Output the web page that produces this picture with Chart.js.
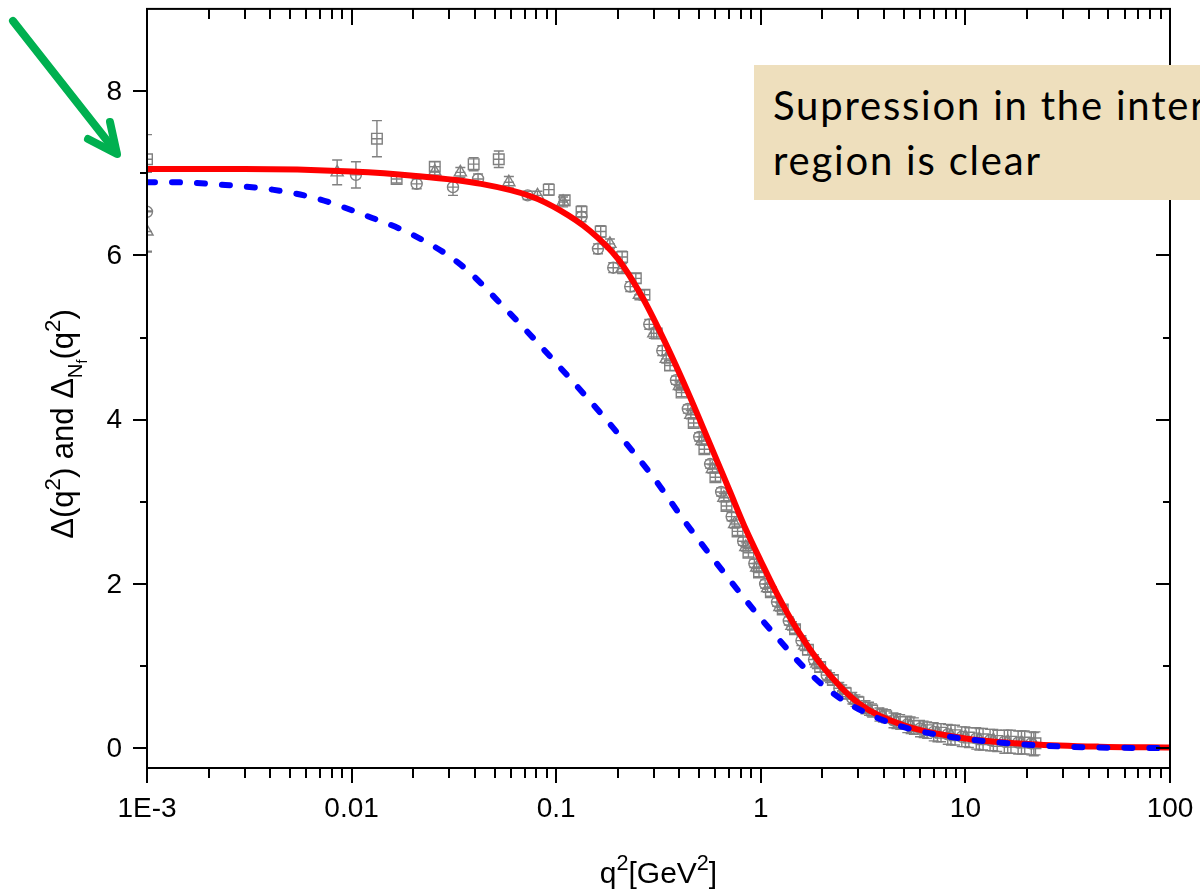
<!DOCTYPE html>
<html>
<head>
<meta charset="utf-8">
<title>Gluon propagator</title>
<script src="https://cdn.jsdelivr.net/npm/chart.js@4.4.1/dist/chart.umd.min.js"></script>
<style>
    html, body { margin: 0; padding: 0; background: #fff; overflow: hidden; }
    #wrap { position: relative; width: 1200px; height: 894px; overflow: hidden; }
    #plot { position: absolute; left: 0; top: 0; }
    #arrow { position: absolute; left: 0; top: 0; }
    #note {
        position: absolute; left: 754px; top: 65px; width: 640px; height: 135px;
        background: #EEDFBD; color: #000; box-sizing: border-box;
        padding: 13px 0 0 19px; white-space: nowrap;
        font-family: Lato, "Open Sans", sans-serif; font-size: 40px; line-height: 55px;
        letter-spacing: 1.8px;
    }
</style>
</head>
<body>
<div id="wrap">
    <canvas id="plot" width="1200" height="894"></canvas>
    <svg id="arrow" width="140" height="170">
        <g stroke="#00B050" stroke-width="8" stroke-linecap="round" stroke-linejoin="round" fill="none">
            <line x1="13" y1="21" x2="116" y2="152"/>
            <polyline points="110,122 117,154 88,139"/>
        </g>
    </svg>
    <div id="note">Supression in the intermediate<br>region is clear</div>
</div>
<script>
/*== axes ==*/
const xTickVals = [0.001, 0.01, 0.1, 1, 10, 100];
const xTickLabels = ['1E-3', '0.01', '0.1', '1', '10', '100'];
const yTickVals = [0, 2, 4, 6, 8];
const yTickLabels = ['0', '2', '4', '6', '8'];
const yMinorVals = [1, 3, 5, 7];

/*== fit (red) ==*/
const fitQ = [0.001, 0.003, 0.01, 0.02, 0.043, 0.075, 0.104, 0.146, 0.2, 0.265, 0.35, 0.45, 0.55, 0.7, 0.85, 1.0, 1.2, 1.5, 2.0, 3.0, 5.0, 10, 21, 45, 100];
const fitDelta = [7.05, 7.05, 7.02, 6.97, 6.87, 6.72, 6.55, 6.30, 5.96, 5.48, 4.88, 4.28, 3.77, 3.15, 2.65, 2.28, 1.88, 1.45, 1.00, 0.55, 0.28, 0.12, 0.05, 0.02, 0.01];

/*== N_f curve (blue dashed) ==*/
const nfQ = [0.001, 0.00134, 0.0023, 0.0041, 0.0068, 0.0113, 0.0199, 0.034, 0.057, 0.117, 0.19, 0.30, 0.434, 0.65, 0.97, 1.24, 1.56, 2.03, 2.7, 4.4, 7.5, 14.7, 31, 100];
const nfDelta = [6.89, 6.89, 6.86, 6.80, 6.69, 6.50, 6.25, 5.89, 5.34, 4.50, 3.90, 3.29, 2.73, 2.16, 1.62, 1.31, 1.03, 0.76, 0.54, 0.30, 0.16, 0.07, 0.02, 0.0];

/*== lattice points: squares ==*/
const sqQ = [0.001, 0.0133, 0.0166, 0.0255, 0.0395, 0.0524, 0.092, 0.11, 0.133, 0.165, 0.21, 0.245, 0.27, 0.31, 0.36, 0.41, 0.47, 0.53, 0.60, 0.68, 0.77, 0.87, 0.98, 1.12, 1.28, 1.47, 1.70, 1.95, 2.25, 2.6, 3.0, 3.5, 4.1, 4.8, 5.6, 6.5, 7.6, 8.9, 10.4, 12.2, 14.3, 16.7, 19.5, 22.0];
const sqVal = [7.17, 7.42, 6.93, 7.08, 7.11, 7.17, 6.80, 6.67, 6.53, 6.29, 5.98, 5.72, 5.52, 5.05, 4.66, 4.33, 3.96, 3.64, 3.30, 2.95, 2.64, 2.38, 2.14, 1.90, 1.69, 1.45, 1.20, 0.99, 0.83, 0.67, 0.56, 0.46, 0.39, 0.32, 0.27, 0.22, 0.19, 0.16, 0.13, 0.11, 0.09, 0.08, 0.07, 0.06];
const sqErr = [0.30, 0.22, 0.05, 0.06, 0.08, 0.10, 0.07, 0.06, 0.07, 0.07, 0.07, 0.06, 0.06, 0.06, 0.06, 0.05, 0.05, 0.05, 0.05, 0.05, 0.05, 0.05, 0.05, 0.05, 0.05, 0.05, 0.06, 0.06, 0.06, 0.07, 0.07, 0.08, 0.08, 0.09, 0.10, 0.10, 0.11, 0.12, 0.12, 0.13, 0.13, 0.14, 0.14, 0.14];

/*== lattice points: circles ==*/
const ciQ = [0.001, 0.0105, 0.0208, 0.0313, 0.0415, 0.0725, 0.133, 0.16, 0.19, 0.23, 0.285, 0.33, 0.385, 0.44, 0.50, 0.565, 0.64, 0.72, 0.82, 0.93, 1.05, 1.20, 1.37, 1.58, 1.82, 2.1, 2.42, 2.8, 3.25, 3.8, 4.45, 5.2, 6.0, 7.0, 8.2, 9.6, 11.3, 13.2, 15.5, 18.1, 21.0];
const ciVal = [6.53, 6.98, 6.87, 6.83, 6.93, 6.73, 6.47, 6.08, 5.85, 5.62, 5.16, 4.84, 4.48, 4.13, 3.79, 3.46, 3.12, 2.82, 2.52, 2.25, 2.00, 1.78, 1.55, 1.31, 1.08, 0.89, 0.73, 0.61, 0.50, 0.41, 0.34, 0.29, 0.24, 0.20, 0.17, 0.14, 0.12, 0.10, 0.08, 0.07, 0.06];
const ciErr = [0.48, 0.16, 0.06, 0.10, 0.06, 0.05, 0.06, 0.06, 0.06, 0.06, 0.06, 0.06, 0.05, 0.05, 0.05, 0.05, 0.05, 0.05, 0.05, 0.05, 0.05, 0.05, 0.05, 0.06, 0.06, 0.06, 0.07, 0.07, 0.08, 0.08, 0.09, 0.10, 0.10, 0.11, 0.12, 0.12, 0.13, 0.13, 0.14, 0.14, 0.14];

/*== lattice points: triangles ==*/
const trQ = [0.001, 0.0085, 0.0255, 0.034, 0.0587, 0.081, 0.108, 0.183, 0.21, 0.255, 0.30, 0.345, 0.40, 0.455, 0.515, 0.58, 0.66, 0.745, 0.845, 0.955, 1.08, 1.24, 1.42, 1.64, 1.88, 2.18, 2.5, 2.9, 3.38, 3.95, 4.6, 5.4, 6.25, 7.3, 8.5, 10.0, 11.7, 13.7, 16.1, 18.8, 21.6];
const trVal = [6.29, 7.01, 7.02, 7.01, 6.89, 6.73, 6.65, 6.14, 5.84, 5.52, 5.05, 4.74, 4.41, 4.06, 3.74, 3.40, 3.05, 2.73, 2.45, 2.20, 1.95, 1.72, 1.49, 1.25, 1.03, 0.86, 0.70, 0.58, 0.48, 0.40, 0.33, 0.28, 0.23, 0.19, 0.16, 0.14, 0.11, 0.10, 0.08, 0.07, 0.05];
const trErr = [0.25, 0.15, 0.06, 0.06, 0.07, 0.05, 0.06, 0.06, 0.06, 0.06, 0.06, 0.05, 0.05, 0.05, 0.05, 0.05, 0.05, 0.05, 0.05, 0.05, 0.05, 0.05, 0.05, 0.06, 0.06, 0.06, 0.07, 0.07, 0.08, 0.08, 0.09, 0.10, 0.10, 0.11, 0.12, 0.12, 0.13, 0.13, 0.14, 0.14, 0.14];

const GRAY = '#808080';
const AXIS_FONT = '"Liberation Sans", Arial, sans-serif';

function toPoints(xs, ys) {
    return xs.map((x, i) => ({x: x, y: ys[i]}));
}

function pointSet(label, xs, ys, errs, style, radius) {
    return {
        label: label,
        data: toPoints(xs, ys),
        errors: errs,
        pointStyle: style,
        pointRadius: radius,
        pointBorderWidth: 1.4,
        borderColor: GRAY,
        backgroundColor: 'rgba(0,0,0,0)',
        clip: 0
    };
}

/*== error bars under the markers ==*/
const errorBars = {
    id: 'errorBars',
    beforeDatasetsDraw(chart) {
        const {ctx, chartArea: a, scales: {x, y}} = chart;
        ctx.save();
        ctx.beginPath();
        ctx.rect(a.left, a.top, a.right - a.left, a.bottom - a.top);
        ctx.clip();
        ctx.strokeStyle = GRAY;
        ctx.lineWidth = 1.4;
        chart.data.datasets.forEach(ds => {
            if (!ds.errors) return;
            const half = ds.pointStyle === 'circle' ? ds.pointRadius : ds.pointRadius * 0.72;
            ds.data.forEach((p, i) => {
                const px = x.getPixelForValue(p.x);
                const py = y.getPixelForValue(p.y);
                const top = y.getPixelForValue(p.y + ds.errors[i]);
                const bot = y.getPixelForValue(p.y - ds.errors[i]);
                ctx.beginPath();
                ctx.moveTo(px, top); ctx.lineTo(px, bot);
                ctx.moveTo(px - 5, top); ctx.lineTo(px + 5, top);
                ctx.moveTo(px - 5, bot); ctx.lineTo(px + 5, bot);
                ctx.moveTo(px - half, py); ctx.lineTo(px + half, py);
                ctx.stroke();
            });
        });
        ctx.restore();
    }
};

/*== frame, ticks, tick labels and axis titles ==*/
function drawRich(ctx, parts, x, y, size) {
    // parts: [text, kind]; kind 0 = normal, 1 = superscript, 2 = subscript, 3 = sub-subscript
    const fonts = [size, size * 0.72, size * 0.66, size * 0.45];
    const shift = [0, -size * 0.42, size * 0.3, size * 0.46];
    let total = 0;
    parts.forEach(p => {
        ctx.font = fonts[p[1]] + 'px ' + AXIS_FONT;
        total += ctx.measureText(p[0]).width;
    });
    let cx = x - total / 2;
    parts.forEach(p => {
        ctx.font = fonts[p[1]] + 'px ' + AXIS_FONT;
        ctx.fillText(p[0], cx, y + shift[p[1]]);
        cx += ctx.measureText(p[0]).width;
    });
}

const axesFrame = {
    id: 'axesFrame',
    afterDraw(chart) {
        const {ctx, chartArea: a, scales: {x, y}} = chart;
        ctx.save();
        ctx.strokeStyle = '#000';
        ctx.fillStyle = '#000';
        ctx.lineWidth = 2;
        ctx.lineCap = 'butt';
        ctx.strokeRect(a.left, a.top, a.right - a.left, a.bottom - a.top);

        ctx.beginPath();
        for (let d = -3; d <= 2; d++) {
            for (let k = 1; k <= 9; k++) {
                const v = k * Math.pow(10, d);
                if (v > 100.0001) break;
                const px = Math.round(x.getPixelForValue(v));
                const major = k === 1;
                ctx.moveTo(px, a.bottom); ctx.lineTo(px, a.bottom + (major ? 15 : 10));
                ctx.moveTo(px, a.top); ctx.lineTo(px, a.top + (major ? 16 : 10));
            }
        }
        yTickVals.forEach(v => {
            const py = Math.round(y.getPixelForValue(v));
            ctx.moveTo(a.left, py); ctx.lineTo(a.left - 14, py);
            ctx.moveTo(a.right, py); ctx.lineTo(a.right - 14, py);
        });
        yMinorVals.forEach(v => {
            const py = Math.round(y.getPixelForValue(v));
            ctx.moveTo(a.left, py); ctx.lineTo(a.left - 7, py);
            ctx.moveTo(a.right, py); ctx.lineTo(a.right - 7, py);
        });
        ctx.stroke();

        ctx.font = '28px ' + AXIS_FONT;
        ctx.textAlign = 'center';
        ctx.textBaseline = 'alphabetic';
        xTickVals.forEach((v, i) => {
            ctx.fillText(xTickLabels[i], x.getPixelForValue(v), 817);
        });
        ctx.textAlign = 'right';
        ctx.textBaseline = 'middle';
        yTickVals.forEach((v, i) => {
            ctx.fillText(yTickLabels[i], 122, y.getPixelForValue(v) + 1);
        });

        ctx.textAlign = 'left';
        ctx.textBaseline = 'alphabetic';
        drawRich(ctx, [['q', 0], ['2', 1], ['[GeV', 0], ['2', 1], [']', 0]], (a.left + a.right) / 2, 883, 30);

        ctx.translate(73, 424);
        ctx.rotate(-Math.PI / 2);
        drawRich(ctx, [['\u0394(q', 0], ['2', 1], [') and \u0394', 0], ['N', 2], ['f', 3], ['(q', 0], ['2', 1], [')', 0]], 0, 0, 31);
        ctx.restore();
    }
};

const ctx = document.getElementById('plot').getContext('2d');

new Chart(ctx, {
    type: 'scatter',
    data: {
        datasets: [
            {
                label: 'Delta Nf',
                type: 'line',
                data: toPoints(nfQ, nfDelta),
                borderColor: '#0000FF',
                borderWidth: 6,
                borderDash: [8, 17],
                borderCapStyle: 'round',
                pointRadius: 0,
                cubicInterpolationMode: 'monotone',
                fill: false,
                clip: 0
            },
            {
                label: 'Delta fit',
                type: 'line',
                data: toPoints(fitQ, fitDelta),
                borderColor: '#FF0000',
                borderWidth: 6,
                pointRadius: 0,
                cubicInterpolationMode: 'monotone',
                fill: false,
                clip: 0
            },
            pointSet('squares', sqQ, sqVal, sqErr, 'rect', 7.5),
            pointSet('circles', ciQ, ciVal, ciErr, 'circle', 5.5),
            pointSet('triangles', trQ, trVal, trErr, 'triangle', 7)
        ]
    },
    options: {
        responsive: false,
        animation: false,
        events: [],
        layout: {
            padding: {left: 147, top: 7, right: 30, bottom: 126}
        },
        scales: {
            x: {type: 'logarithmic', min: 0.001, max: 100, display: false},
            y: {type: 'linear', min: -0.24, max: 9, display: false}
        },
        plugins: {
            legend: {display: false},
            tooltip: {enabled: false}
        }
    },
    plugins: [errorBars, axesFrame]
});
</script>
</body>
</html>
